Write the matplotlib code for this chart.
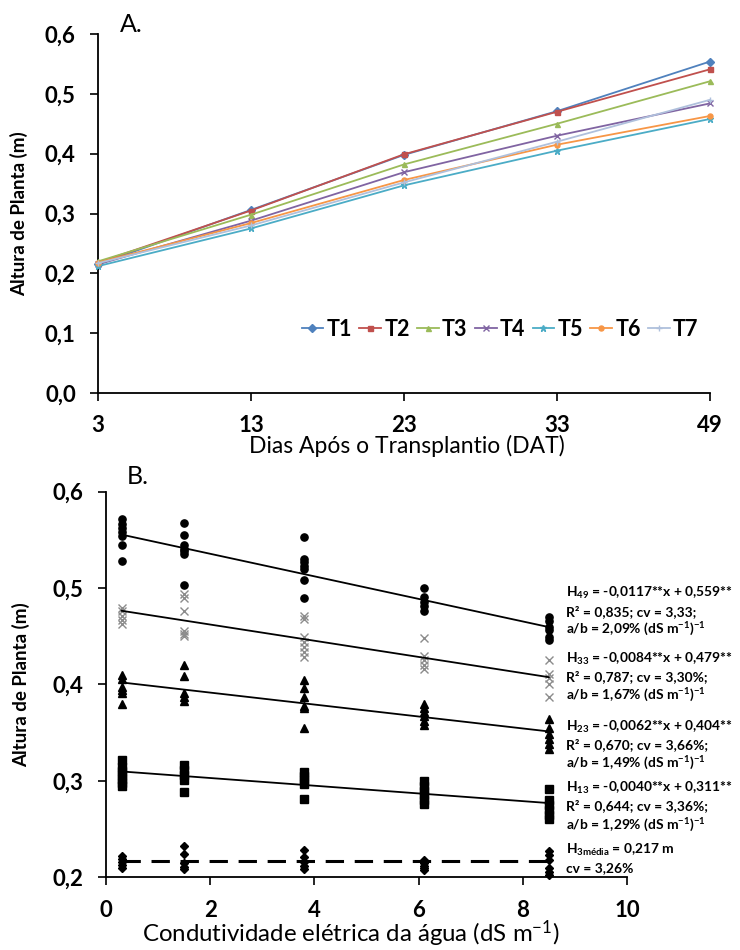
import numpy as np
import matplotlib
matplotlib.use('Agg')
import matplotlib.pyplot as plt

plt.rcParams['font.family'] = ['Lato', 'DejaVu Sans']
plt.rcParams['mathtext.fontset'] = 'custom'
plt.rcParams['mathtext.rm'] = 'Lato:bold'
plt.rcParams['mathtext.default'] = 'regular'

# ---- panel A data ----
dias = ['3', '13', '23', '33', '49']
trat = ['T1', 'T2', 'T3', 'T4', 'T5', 'T6', 'T7']
T1 = [0.215, 0.306, 0.398, 0.471, 0.554]
T2 = [0.218, 0.305, 0.399, 0.470, 0.541]
T3 = [0.220, 0.298, 0.382, 0.450, 0.521]
T4 = [0.215, 0.288, 0.369, 0.430, 0.484]
T5 = [0.212, 0.275, 0.347, 0.405, 0.458]
T6 = [0.218, 0.284, 0.356, 0.415, 0.463]
T7 = [0.217, 0.280, 0.352, 0.420, 0.490]
cores = ['#4F81BD', '#C0504D', '#9BBB59', '#8064A2', '#4BACC6', '#F79646', '#AFC0DC']
marcas = ['D', 's', '^', 'x', '*', 'o', '+']

# ---- panel B data ----
ce = [0.3, 1.5, 3.8, 6.1, 8.5]
h49 = [[0.572, 0.566, 0.562, 0.558, 0.554, 0.545, 0.528],
       [0.568, 0.555, 0.545, 0.541, 0.538, 0.535, 0.503],
       [0.553, 0.530, 0.527, 0.523, 0.520, 0.508, 0.490],
       [0.500, 0.491, 0.486, 0.481, 0.476],
       [0.470, 0.466, 0.460, 0.457, 0.449, 0.446]]
h33 = [[0.479, 0.476, 0.471, 0.467, 0.463],
       [0.494, 0.490, 0.476, 0.455, 0.452, 0.450],
       [0.471, 0.468, 0.449, 0.444, 0.439, 0.434, 0.429],
       [0.448, 0.430, 0.425, 0.420, 0.416],
       [0.425, 0.411, 0.407, 0.401, 0.387]]
h23 = [[0.410, 0.406, 0.397, 0.394, 0.391, 0.380],
       [0.420, 0.409, 0.391, 0.387, 0.383],
       [0.405, 0.396, 0.387, 0.378, 0.376, 0.355],
       [0.380, 0.376, 0.371, 0.367, 0.362, 0.358],
       [0.364, 0.355, 0.349, 0.343, 0.338, 0.333]]
h13 = [[0.322, 0.314, 0.310, 0.306, 0.302, 0.298, 0.295],
       [0.316, 0.311, 0.306, 0.301, 0.289],
       [0.309, 0.305, 0.301, 0.297, 0.281],
       [0.300, 0.295, 0.290, 0.285, 0.280, 0.276],
       [0.292, 0.280, 0.275, 0.270, 0.265, 0.260]]
h3 = [[0.222, 0.219, 0.216, 0.213, 0.210],
      [0.232, 0.224, 0.215, 0.211, 0.209],
      [0.228, 0.221, 0.216, 0.212, 0.209],
      [0.218, 0.215, 0.212, 0.210, 0.208],
      [0.227, 0.223, 0.218, 0.210, 0.205, 0.202]]
# regression coefficients (a, b): H = a*x + b
coef49 = (-0.0117, 0.559)
coef33 = (-0.0084, 0.479)
coef23 = (-0.0062, 0.404)
coef13 = (-0.0040, 0.311)
media3 = 0.217

textos = [
    ['H$_{49}$ = -0,0117**x + 0,559**', 'R² = 0,835; cv = 3,33;', 'a/b = 2,09% (dS m$^{-1}$)$^{-1}$'],
    ['H$_{33}$ = -0,0084**x + 0,479**', 'R² = 0,787; cv = 3,30%;', 'a/b = 1,67% (dS m$^{-1}$)$^{-1}$'],
    ['H$_{23}$ = -0,0062**x + 0,404**', 'R² = 0,670; cv = 3,66%;', 'a/b = 1,49% (dS m$^{-1}$)$^{-1}$'],
    ['H$_{13}$ = -0,0040**x + 0,311**', 'R² = 0,644; cv = 3,36%;', 'a/b = 1,29% (dS m$^{-1}$)$^{-1}$'],
    ['H$_{3média}$ = 0,217 m', 'cv = 3,26%'],
]
texto_y = [[593, 612, 629], [659, 677, 695], [727, 745, 763], [788, 806, 825], [850, 868]]


def virgula(v, casas=1):
    return ('%.*f' % (casas, v)).replace('.', ',')


fig = plt.figure(figsize=(7.4, 9.5), dpi=100)

# ---------------- A ----------------
ax1 = fig.add_axes([98/740, 1-393/950, 612/740, 359/950])
xs = np.arange(len(dias))
for nome, serie, c, m in zip(trat, [T1, T2, T3, T4, T5, T6, T7], cores, marcas):
    ms = 4.5 if m in ('x', '*', '+') else 3.6
    ax1.plot(xs, serie, color=c, marker=m, ms=ms, lw=1.3, mew=1.0,
             label=nome, clip_on=False, zorder=3)
ax1.set_xlim(0, len(dias)-1)
ax1.set_ylim(0, 0.6)
ax1.set_xticks(xs)
ax1.set_xticklabels(dias)
yt = np.arange(0, 0.61, 0.1)
ax1.set_yticks(yt)
ax1.set_yticklabels([virgula(v) for v in yt])
ax1.spines['top'].set_visible(False)
ax1.spines['right'].set_visible(False)
ax1.set_ylabel('Altura de Planta (m)', fontsize=13.5, fontweight='bold')
ax1.yaxis.set_label_coords(-0.115, 0.5)
ax1.set_xlabel('Dias Após o Transplantio (DAT)', fontsize=16.5)
ax1.xaxis.set_label_coords(0.505, -0.118)
ax1.legend(ncol=7, frameon=False, loc='center', bbox_to_anchor=(0.657, 0.178),
           prop={'size': 15.5, 'weight': 'bold'}, handlelength=1.0,
           handletextpad=0.15, columnspacing=0.35, markerscale=1.0)
fig.text(120/740, 1-25/950, 'A.', fontsize=18, va='center', ha='left')

# ---------------- B ----------------
ax2 = fig.add_axes([106/740, 1-877.3/950, 521/740, 385.6/950])
estilos = [(h49, 'o', 'black', 5.2), (h33, 'x', '#8C8C8C', 6.0),
           (h23, '^', 'black', 5.2), (h13, 's', 'black', 5.2), (h3, 'D', 'black', 3.6)]
for dados, m, c, ms in estilos:
    for x, vals in zip(ce, dados):
        ax2.plot([x]*len(vals), vals, ls='none', marker=m, color=c, ms=ms,
                 mew=1.0, clip_on=False, zorder=3)
xr = np.array([ce[0], ce[-1]])
for a, b in [coef49, coef33, coef23, coef13]:
    ax2.plot(xr, a*xr + b, color='black', lw=1.3, zorder=4)
ax2.plot(xr, [media3, media3], color='black', lw=2.2, ls=(0, (6, 3.5)), zorder=4)
ax2.set_xlim(0, 10)
ax2.set_ylim(0.2, 0.6)
ax2.set_xticks(np.arange(0, 11, 2))
yt2 = np.arange(0.2, 0.61, 0.1)
ax2.set_yticks(yt2)
ax2.set_yticklabels([virgula(v) for v in yt2])
ax2.spines['top'].set_visible(False)
ax2.spines['right'].set_visible(False)
ax2.set_ylabel('Altura de Planta (m)', fontsize=13.5, fontweight='bold')
ax2.yaxis.set_label_coords(-0.145, 0.5)
ax2.set_xlabel('Condutividade elétrica da água (dS m$^{-1}$)', fontsize=17.3)
ax2.xaxis.set_label_coords(0.47, -0.108)
fig.text(127/740, 1-477/950, 'B.', fontsize=18, va='center', ha='left')

for linhas, ys in zip(textos, texto_y):
    for t, yy in zip(linhas, ys):
        fig.text(566/740, 1-yy/950, t, fontsize=9.9, fontweight='bold',
                 va='center', ha='left')

for ax in (ax1, ax2):
    ax.tick_params(direction='out', length=6, width=1.2, labelsize=16, pad=10)
    for lab in ax.get_xticklabels() + ax.get_yticklabels():
        lab.set_fontweight('bold')
    for s in ('left', 'bottom'):
        ax.spines[s].set_linewidth(1.3)

fig.savefig('out.png', dpi=100)
